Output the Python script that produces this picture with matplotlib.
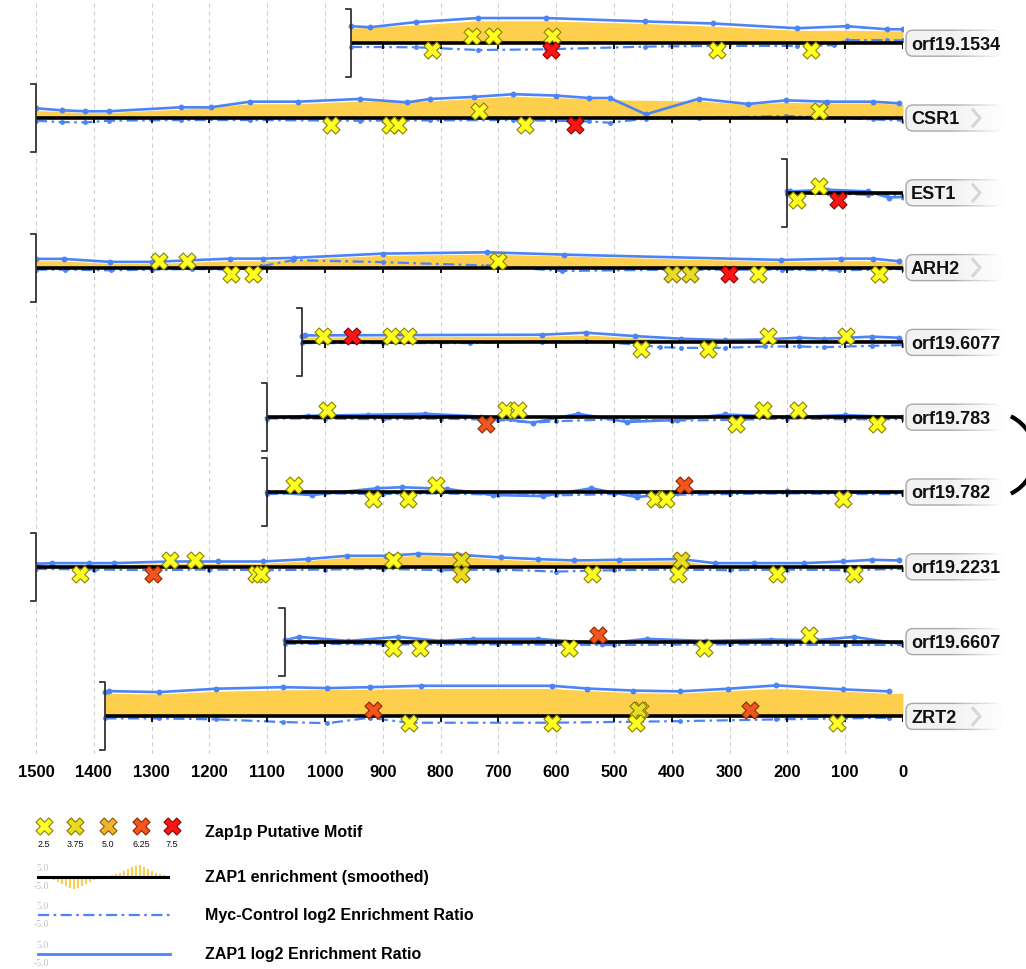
import numpy as np
import matplotlib
matplotlib.use("Agg")
import matplotlib.pyplot as plt
from matplotlib.patches import FancyBboxPatch, Arc

plt.rcParams['font.family'] = ['Liberation Sans', 'DejaVu Sans']

# ---------------- data (positions in bp upstream, values in log2 units) ----------------
genes = ["orf19.1534", "CSR1", "EST1", "ARH2", "orf19.6077",
         "orf19.783", "orf19.782", "orf19.2231", "orf19.6607", "ZRT2"]

lengths = {"orf19.1534": 955, "CSR1": 1500, "EST1": 200, "ARH2": 1500, "orf19.6077": 1040,
           "orf19.783": 1100, "orf19.782": 1100, "orf19.2231": 1500, "orf19.6607": 1070, "ZRT2": 1380}

zap_pos = {
    "orf19.1534": [955, 922, 843, 735, 618, 446, 329, 183, 97, 28, 0],
    "CSR1": [1500, 1455, 1415, 1374, 1250, 1198, 1130, 1047, 940, 858, 818, 743, 674, 600,
             543, 507, 445, 353, 268, 202, 132, 52, 7],
    "EST1": [200, 195, 131, 60, 25, 0],
    "ARH2": [1500, 1452, 1372, 1299, 1234, 1164, 1107, 1054, 899, 719, 586, 211, 108, 52, 7],
    "orf19.6077": [1040, 1035, 625, 549, 464, 384, 308, 239, 180, 137, 54, 7],
    "orf19.783": [1100, 1029, 926, 827, 730, 640, 562, 478, 391, 308, 200, 100, 0],
    "orf19.782": [1100, 1023, 910, 867, 789, 709, 623, 539, 461, 391, 299, 200, 100, 0],
    "orf19.2231": [1500, 1472, 1409, 1365, 1268, 1185, 1107, 1030, 962, 894, 839, 768, 695,
                   632, 569, 491, 384, 326, 258, 171, 103, 54, 7],
    "orf19.6607": [1069, 1045, 960, 874, 800, 744, 631, 520, 443, 340, 229, 150, 85, 0],
    "ZRT2": [1380, 1374, 1287, 1188, 1072, 996, 923, 834, 607, 546, 467, 386, 302, 219, 103, 25],
}
zap_val = {
    "orf19.1534": [2.5, 2.35, 3.1, 3.7, 3.7, 3.2, 2.9, 2.2, 2.5, 2.05, 2.05],
    "CSR1": [1.43, 1.13, 0.99, 0.99, 1.57, 1.57, 2.4, 2.4, 2.8, 2.3, 2.8, 3.1, 3.5, 3.3,
             2.94, 2.94, 0.54, 2.84, 2.06, 2.6, 2.4, 2.4, 2.16],
    "EST1": [0.3, 0.2, 0.45, 0.2, -0.7, -0.6],
    "ARH2": [1.28, 1.28, 0.84, 0.84, 1.07, 1.32, 1.32, 1.43, 2.06, 2.25, 1.91, 1.13, 1.32, 1.32, 0.93],
    "orf19.6077": [1.0, 1.03, 1.13, 1.43, 0.93, 0.54, 0.34, 0.44, 0.69, 0.54, 0.84, 0.69],
    "orf19.783": [-0.1, 0.2, 0.35, 0.5, 0.1, -0.8, 0.5, -0.7, -0.4, 0.4, 0.0, 0.3, 0.0],
    "orf19.782": [0.0, -0.45, 0.55, 0.7, 0.45, -0.45, -0.6, 0.55, -0.75, -0.15, 0.0, 0.1, 0.0, 0.0],
    "orf19.2231": [0.44, 0.54, 0.54, 0.54, 0.78, 0.78, 0.78, 1.13, 1.62, 1.62, 1.91, 1.76, 1.37,
                   1.13, 0.93, 1.03, 1.13, 0.54, 0.54, 0.54, 0.78, 1.03, 0.93],
    "orf19.6607": [0.2, 0.7, 0.1, 0.7, 0.1, 0.4, 0.4, -0.3, 0.4, 0.1, 0.3, 0.2, 0.7, -0.4],
    "ZRT2": [3.6, 3.72, 3.57, 4.07, 4.3, 4.16, 4.3, 4.5, 4.5, 4.1, 3.8, 3.68, 4.07, 4.56, 3.97, 3.68],
}

myc_pos = {
    "orf19.1534": [955, 843, 735, 618, 446, 329, 183, 120, 97, 28, 0],
    "CSR1": [1500, 1455, 1415, 1374, 1250, 1130, 940, 818, 674, 543, 507, 445, 353, 202, 52, 0],
    "EST1": [200, 130, 60, 0],
    "ARH2": [1500, 1450, 1370, 1300, 1230, 1160, 1110, 1055, 900, 720, 590, 400, 210, 110, 50, 0],
    "orf19.6077": [1040, 900, 750, 625, 549, 464, 420, 384, 308, 239, 180, 137, 54, 0],
    "orf19.783": [1100, 1000, 900, 800, 700, 640, 600, 500, 400, 300, 200, 100, 0],
    "orf19.782": [1100, 1000, 900, 800, 700, 600, 500, 400, 300, 200, 100, 0],
    "orf19.2231": [1500, 1400, 1300, 1200, 1100, 1000, 900, 800, 700, 600, 500, 400, 300, 200, 100, 0],
    "orf19.6607": [1069, 900, 700, 500, 300, 100, 0],
    "ZRT2": [1380, 1287, 1188, 1072, 996, 923, 856, 607, 386, 219, 25],
}
myc_val = {
    "orf19.1534": [-0.55, -0.6, -1.0, -0.9, -0.5, -0.4, -0.4, -0.3, 0.45, 0.45, 0.4],
    "CSR1": [-0.4, -0.6, -0.65, -0.4, -0.3, -0.3, -0.4, -0.35, -0.3, -0.5, -0.7, -0.1, 0.0, 0.3, -0.2, -0.4],
    "EST1": [-0.2, -0.1, -0.3, -0.4],
    "ARH2": [-0.3, -0.3, -0.4, -0.3, -0.2, -0.3, 0.2, 1.1, 0.8, 0.3, -0.5, -0.3, -0.3, -0.4, -0.3, -0.2],
    "orf19.6077": [-0.1, -0.1, -0.1, 0.1, 0.2, -0.3, -0.7, -0.8, -0.8, -0.6, -0.6, -0.7, -0.5, -0.4],
    "orf19.783": [-0.2, -0.2, -0.3, -0.2, -0.4, -0.8, -0.6, -0.3, -0.5, -0.4, -0.2, -0.3, -0.3],
    "orf19.782": [-0.3, -0.2, -0.3, -0.2, -0.4, -0.5, -0.3, -0.4, -0.3, -0.2, -0.3, -0.3],
    "orf19.2231": [-0.3, -0.4, -0.5, -0.4, -0.5, -0.4, -0.3, -0.5, -0.4, -0.7, -0.5, -0.4, -0.5, -0.4, -0.5, -0.3],
    "orf19.6607": [-0.3, -0.4, -0.4, -0.5, -0.4, -0.5, -0.5],
    "ZRT2": [-0.3, -0.3, -0.44, -0.83, -1.0, -0.2, -0.93, -0.93, -0.7, -0.44, -0.2],
}

smooth_pos = {
    "orf19.1534": [955, 843, 735, 618, 446, 329, 183, 97, 0],
    "CSR1": [1500, 1415, 1374, 1250, 1130, 1047, 940, 818, 674, 600, 507, 445, 353, 268, 202, 132, 52, 0],
    "EST1": [200, 150, 100, 50, 0],
    "ARH2": [1500, 1452, 1372, 1299, 1234, 1164, 1107, 1054, 899, 719, 586, 400, 211, 108, 52, 0],
    "orf19.6077": [1040, 625, 549, 464, 384, 308, 239, 180, 137, 54, 0],
    "orf19.783": [1100, 900, 800, 600, 400, 300, 0],
    "orf19.782": [1100, 900, 800, 700, 500, 300, 0],
    "orf19.2231": [1500, 1365, 1268, 1107, 1030, 962, 894, 839, 768, 695, 632, 569, 491, 384, 326, 171, 54, 0],
    "orf19.6607": [1069, 900, 700, 500, 300, 100, 0],
    "ZRT2": [1380, 1287, 1188, 1072, 923, 834, 607, 546, 467, 386, 302, 219, 103, 25, 0],
}
smooth_val = {
    "orf19.1534": [2.2, 2.7, 3.3, 3.3, 2.9, 2.5, 1.9, 1.9, 1.8],
    "CSR1": [1.1, 0.8, 0.8, 1.3, 2.1, 2.1, 2.5, 2.5, 3.2, 3.0, 2.7, 2.6, 2.5, 2.0, 2.3, 2.2, 2.2, 2.0],
    "EST1": [0.3, 0.4, 0.3, 0.1, 0.0],
    "ARH2": [1.0, 1.0, 0.6, 0.6, 0.8, 1.0, 1.0, 1.2, 1.8, 2.0, 1.7, 1.3, 0.9, 1.0, 1.0, 0.7],
    "orf19.6077": [0.8, 0.9, 1.1, 0.7, 0.3, 0.2, 0.2, 0.4, 0.3, 0.5, 0.4],
    "orf19.783": [0.05, 0.15, 0.2, 0.1, 0.05, 0.1, 0.05],
    "orf19.782": [0.05, 0.3, 0.3, 0.05, 0.1, 0.05, 0.05],
    "orf19.2231": [0.2, 0.3, 0.5, 0.5, 0.9, 1.4, 1.4, 1.7, 1.5, 1.1, 0.9, 0.7, 0.8, 0.9, 0.2, 0.2, 0.4, 0.4],
    "orf19.6607": [0.2, 0.3, 0.2, 0.2, 0.1, 0.3, 0.1],
    "ZRT2": [3.4, 3.3, 3.7, 3.9, 4.0, 4.1, 4.1, 3.8, 3.5, 3.4, 3.8, 4.1, 3.7, 3.4, 3.4],
}

motif_pos = {
    "orf19.1534": [815, 746, 709, 607, 609, 322, 159],
    "CSR1": [990, 888, 874, 734, 654, 567, 145],
    "EST1": [183, 145, 112],
    "ARH2": [1287, 1239, 1163, 1125, 701, 400, 369, 301, 251, 42],
    "orf19.6077": [1003, 953, 886, 856, 453, 337, 234, 99],
    "orf19.783": [997, 721, 687, 666, 289, 242, 182, 45],
    "orf19.782": [1054, 917, 856, 808, 429, 410, 379, 104],
    "orf19.2231": [1424, 1298, 1268, 1225, 1119, 1111, 882, 765, 765, 538, 384, 389, 218, 85],
    "orf19.6607": [882, 836, 578, 528, 344, 163],
    "ZRT2": [917, 855, 607, 455, 458, 462, 265, 114],
}
motif_strand = {
    "orf19.1534": [-1, 1, 1, 1, -1, -1, -1],
    "CSR1": [-1, -1, -1, 1, -1, -1, 1],
    "EST1": [-1, 1, -1],
    "ARH2": [1, 1, -1, -1, 1, -1, -1, -1, -1, -1],
    "orf19.6077": [1, 1, 1, 1, -1, -1, 1, 1],
    "orf19.783": [1, -1, 1, 1, -1, 1, 1, -1],
    "orf19.782": [1, -1, -1, 1, -1, -1, 1, -1],
    "orf19.2231": [-1, -1, 1, 1, -1, -1, 1, 1, -1, -1, 1, -1, -1, -1],
    "orf19.6607": [-1, -1, -1, 1, -1, 1],
    "ZRT2": [1, -1, -1, 1, 1, -1, 1, -1],
}
motif_score = {
    "orf19.1534": [2.5, 2.5, 2.5, 2.5, 7.5, 2.5, 2.5],
    "CSR1": [2.5, 2.5, 2.5, 2.5, 2.5, 7.5, 2.5],
    "EST1": [2.5, 2.5, 7.5],
    "ARH2": [2.5, 2.5, 2.5, 2.5, 2.5, 3.75, 3.75, 7.5, 2.5, 2.5],
    "orf19.6077": [2.5, 7.5, 2.5, 2.5, 2.5, 2.5, 2.5, 2.5],
    "orf19.783": [2.5, 6.25, 2.5, 2.5, 2.5, 2.5, 2.5, 2.5],
    "orf19.782": [2.5, 2.5, 2.5, 2.5, 2.5, 2.5, 6.25, 2.5],
    "orf19.2231": [2.5, 6.25, 2.5, 2.5, 2.5, 2.5, 2.5, 3.75, 3.75, 2.5, 3.75, 2.5, 2.5, 2.5],
    "orf19.6607": [2.5, 2.5, 2.5, 6.25, 2.5, 2.5],
    "ZRT2": [6.25, 2.5, 2.5, 2.5, 3.75, 2.5, 6.25, 2.5],
}

score_levels = [2.5, 3.75, 5.0, 6.25, 7.5]
score_labels = ["2.5", "3.75", "5.0", "6.25", "7.5"]
score_face = {2.5: "#ffff22", 3.75: "#e8dc22", 5.0: "#f0b42a", 6.25: "#f0561e", 7.5: "#ff1414"}
score_edge = {2.5: "#8a8200", 3.75: "#857400", 5.0: "#8a5a00", 6.25: "#8a2800", 7.5: "#900000"}

# legend glyph: smoothed-enrichment bars (px heights)
legend_bars_low = [2, 4, 6, 8, 10, 11, 10, 8, 6, 4, 2]
legend_bars_high = [1, 2, 3, 5, 7, 9, 10, 11, 9, 7, 5, 3, 2, 1]

ticks = list(range(1500, -1, -100))

BLUE = "#4d84f5"
FILL = "#fdcf4c"
TRACK_GAP = 11.0
PX_PER_UNIT = 6.8

# ---------------- figure ----------------
fig = plt.figure(figsize=(10.26, 9.70), dpi=100)
ax = fig.add_axes([36 / 1026, 215 / 970, 867 / 1026, 755 / 970])
ytop = 44.2 / PX_PER_UNIT
ax.set_xlim(1500, 0)
ax.set_ylim(ytop - 755 / PX_PER_UNIT, ytop)

ax.vlines(ticks, ytop - 755 / PX_PER_UNIT, ytop, colors="#d0d0d0", linestyles=(0, (4, 3)), lw=0.8, zorder=0)

for i, g in enumerate(genes):
    base = -TRACK_GAP * i
    L = lengths[g]
    ax.fill_between(smooth_pos[g], base, base + np.array(smooth_val[g]), color=FILL, lw=0, zorder=1)
    ax.plot(myc_pos[g], base + np.array(myc_val[g]), color=BLUE, lw=1.6,
            ls=(0, (5, 2, 1.2, 2)), marker="o", ms=2.5, zorder=2)
    ax.plot(zap_pos[g], base + np.array(zap_val[g]), color=BLUE, lw=1.9,
            marker="o", ms=3.2, zorder=3)
    ax.plot([L, 0], [base, base], color="black", lw=2.6, solid_capstyle="butt", zorder=4)
    tk = np.arange(0, L + 1, 100)
    ax.vlines(tk, base - 0.8, base, colors="black", lw=1.3, zorder=4)
    ax.plot([L + 9, L, L, L + 9], [base + 5, base + 5, base - 5, base - 5],
            color="#333333", lw=1.3, clip_on=False, zorder=4)
    for p, s, sc in zip(motif_pos[g], motif_strand[g], motif_score[g]):
        ax.scatter([p], [base + s * 1.0], marker="X", s=150, c=score_face[sc],
                   edgecolors=score_edge[sc], linewidths=0.8, zorder=6, clip_on=False)

ax.set_xticks(ticks)
ax.set_xticklabels([str(t) for t in ticks])
ax.tick_params(axis="x", length=0, pad=7, labelsize=12)
for lbl in ax.get_xticklabels():
    lbl.set_fontweight("bold")
ax.set_yticks([])
for sp in ax.spines.values():
    sp.set_visible(False)
ax.patch.set_alpha(0)

# ---------------- overlay in pixel coordinates ----------------
ov = fig.add_axes([0, 0, 1, 1])
ov.set_xlim(0, 1026)
ov.set_ylim(970, 0)
ov.axis("off")

fade = np.ones((1, 64, 4))
fade[0, :, 3] = np.linspace(0, 1, 64)
for i, g in enumerate(genes):
    yp = 44.2 + TRACK_GAP * PX_PER_UNIT * i
    box = FancyBboxPatch((906, yp - 13), 96, 26, boxstyle="round,pad=0,rounding_size=7",
                         fc="#f2f2f2", ec="#a8a8a8", lw=1.0, zorder=2)
    ov.add_patch(box)
    ov.imshow(fade, extent=[950, 1004, yp + 15, yp - 15], aspect="auto", zorder=3, interpolation="bilinear")
    if len(g) <= 5:
        ov.plot([973, 980, 973], [yp - 8, yp, yp + 8], color="#d6d6d6", lw=2.2, zorder=4)
    ov.text(911, yp + 1, g, ha="left", va="center", fontsize=13, fontweight="bold", color="#111111", zorder=5)

# large brace partly cut by the right edge (orf19.783 / orf19.782 pair)
ov.add_patch(Arc((992, 456), 86, 86, theta1=-64, theta2=64, color="black", lw=3))
ov.set_xlim(0, 1026)
ov.set_ylim(970, 0)

# ---------------- legend ----------------
mx = [44, 75, 108, 141, 172]
for x, sc, lab in zip(mx, score_levels, score_labels):
    ov.scatter([x], [827], marker="X", s=150, c=score_face[sc], edgecolors=score_edge[sc], linewidths=0.8, zorder=5)
    ov.text(x, 845, lab, ha="center", va="center", fontsize=6.5, color="#111111")
ov.text(205, 833, "Zap1p Putative Motif", ha="left", va="center", fontsize=11.5, fontweight="bold")

rows_y = [878, 916, 955]
row_text = ["ZAP1 enrichment (smoothed)", "Myc-Control log2 Enrichment Ratio", "ZAP1 log2 Enrichment Ratio"]
for y, t in zip(rows_y, row_text):
    ov.text(36, y - 9, "5.0", ha="left", va="center", fontsize=7, color="#c0c0c0", family="Liberation Serif")
    ov.text(34, y + 9, "-5.0", ha="left", va="center", fontsize=7, color="#c0c0c0", family="Liberation Serif")
    ov.text(205, y, t, ha="left", va="center", fontsize=11.5, fontweight="bold")

y = rows_y[0]
for k, h in enumerate(legend_bars_low):
    ov.plot([54 + 4 * k, 54 + 4 * k], [y, y + h], color=FILL, lw=1.5, zorder=3)
for k, h in enumerate(legend_bars_high):
    ov.plot([112 + 4 * k, 112 + 4 * k], [y, y - h], color=FILL, lw=1.5, zorder=3)
ov.plot([38, 168], [y, y], color="black", lw=2.2, zorder=4)
ov.plot([38, 170], [rows_y[1], rows_y[1]], color=BLUE, lw=1.6, ls=(0, (5, 2, 1.2, 2)))
ov.plot([38, 170], [rows_y[2], rows_y[2]], color=BLUE, lw=2.0)

fig.savefig("out.png", dpi=100)
